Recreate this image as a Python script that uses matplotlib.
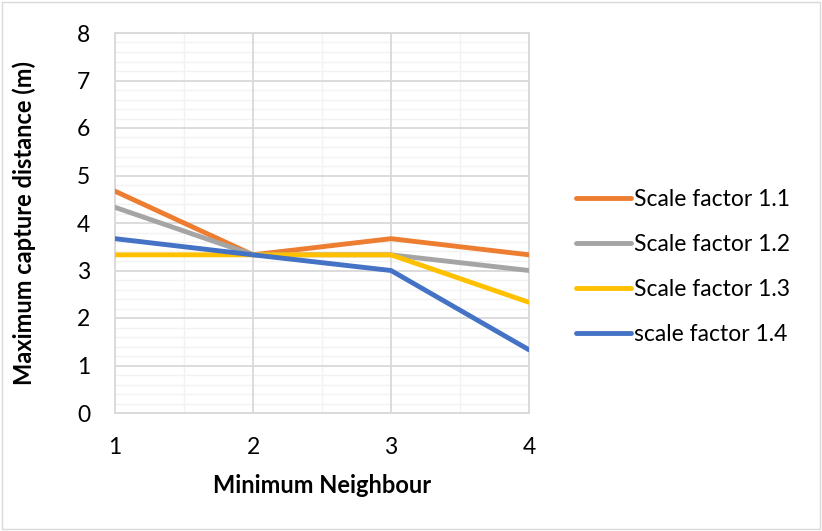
import matplotlib
matplotlib.use("Agg")
import matplotlib.pyplot as plt
from matplotlib.patches import Rectangle

plt.rcParams['font.family'] = ['Lato', 'DejaVu Sans']

neighbours = [1, 2, 3, 4]
sf_1_1 = [4.67, 3.33, 3.67, 3.33]
sf_1_2 = [4.33, 3.33, 3.33, 3.0]
sf_1_3 = [3.33, 3.33, 3.33, 2.33]
sf_1_4 = [3.67, 3.33, 3.0, 1.33]
series_labels = ["Scale factor 1.1", "Scale factor 1.2", "Scale factor 1.3", "scale factor 1.4"]
colors = ["#ED7D31", "#A5A5A5", "#FFC000", "#4472C4"]

fig = plt.figure(figsize=(8.22, 5.31), dpi=100)
ax = fig.add_axes([115/822, 118/531, 414/822, 380/531])

for vals, lab, col in zip([sf_1_1, sf_1_2, sf_1_3, sf_1_4], series_labels, colors):
    ax.plot(neighbours, vals, color=col, lw=3.5, label=lab, solid_capstyle='round', zorder=3)

ax.set_xlim(1, 4)
ax.set_ylim(0, 8)
ax.set_xticks([1, 2, 3, 4])
ax.set_xticks([1.5, 2.5, 3.5], minor=True)
ax.set_yticks(range(0, 9))
ax.set_yticks([i * 0.2 for i in range(41)], minor=True)

# light minor grid underneath, darker major grid drawn on top of it
ax.grid(which='minor', color='#F2F2F2', lw=1.0)
ax.grid(which='major', visible=False)
for xv in ax.get_xticks():
    ax.axvline(xv, color='#D9D9D9', lw=1.3, zorder=1)
for yv in ax.get_yticks():
    ax.axhline(yv, color='#D9D9D9', lw=1.3, zorder=1)
ax.set_axisbelow(True)

ax.tick_params(which='both', length=0, labelsize=16.5)
ax.tick_params(axis='x', pad=17)
ax.tick_params(axis='y', pad=18)
for s in ax.spines.values():
    s.set_color('#D9D9D9')
    s.set_linewidth(1.3)

ax.set_xlabel("Minimum Neighbour", fontsize=17, fontweight='bold')
ax.set_ylabel("Maximum capture distance (m)", fontsize=17, fontweight='bold')
ax.xaxis.set_label_coords(0.5, -0.16)
ax.yaxis.set_label_coords(-0.19, 0.5)

leg = ax.legend(loc='center left', bbox_to_anchor=(1.114, 0.385), frameon=False,
                fontsize=16.5, handlelength=2.4, handletextpad=0.13, labelspacing=1.05,
                borderaxespad=0, borderpad=0)

fig.patches.append(Rectangle((0.002, 0.003), 0.995, 0.993, transform=fig.transFigure,
                             fill=False, edgecolor='#D9D9D9', lw=1))

fig.savefig("out.png", dpi=100)
